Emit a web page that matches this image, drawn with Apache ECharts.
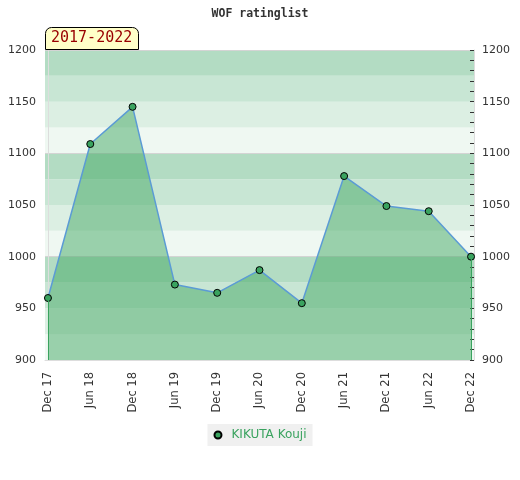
<!DOCTYPE html>
<html><head><meta charset="utf-8">
<script src="https://cdn.jsdelivr.net/npm/echarts@6/dist/echarts.min.js"></script>
<style>html,body{margin:0;padding:0;background:#fff}#c{width:520px;height:480px}</style>
</head><body><div id="c"></div>
<script>
const categories = ['Dec 17','Jun 18','Dec 18','Jun 19','Dec 19','Jun 20','Dec 20','Jun 21','Dec 21','Jun 22','Dec 22'];
const ratings = [960, 1109, 1145, 973, 965, 987, 955, 1078, 1049, 1044, 1000];
const seriesName = 'KIKUTA Kouji';
const periodLabel = '2017-2022';
const chartTitle = 'WOF ratinglist';

const idx = categories.map((_, i) => i);
const data = ratings.map((v, i) => [i, v]);
const last = categories.length - 1;

const chart = echarts.init(document.getElementById('c'));
chart.setOption({
  animation: false,
  title: [
    { text: chartTitle, left: 'center', top: 3,
      textStyle: { fontFamily: 'DejaVu Sans Mono', fontWeight: 'bold', fontSize: 11.5, color: '#333' } },
    { text: periodLabel, left: 45, top: 27, padding: [4, 6, 4, 6],
      backgroundColor: '#ffffc8', borderColor: '#000', borderWidth: 1, borderRadius: [6, 6, 0, 0],
      textStyle: { fontFamily: 'DejaVu Sans Mono', fontWeight: 'normal', fontSize: 15, color: '#990000' } }
  ],
  legend: {
    bottom: 34, left: 'center', backgroundColor: '#f0f0f0', padding: [5, 6],
    icon: 'circle', itemWidth: 7, itemHeight: 7, itemGap: 10,
    textStyle: { color: '#3aa35f', fontSize: 12, fontFamily: 'DejaVu Sans', padding: [0, 0, 0, 5] },
    data: [seriesName]
  },
  grid: { left: 45, right: 46, top: 50, bottom: 120 },
  xAxis: {
    type: 'value', min: -0.07, max: last + 0.07,
    axisLine: { show: true, lineStyle: { color: '#ddd' } },
    axisTick: { show: false },
    splitLine: { show: false },
    axisLabel: {
      customValues: idx, rotate: 90, margin: 12,
      fontSize: 11.5, color: '#333', fontFamily: 'DejaVu Sans',
      formatter: v => categories[Math.round(v)]
    }
  },
  yAxis: [
    { type: 'value', min: 900, max: 1200, interval: 25, position: 'left',
      axisLine: { show: true, lineStyle: { color: '#ddd' } },
      axisTick: { show: false },
      axisLabel: { fontSize: 11, color: '#333', margin: 9, fontFamily: 'DejaVu Sans',
        formatter: v => (v % 50 === 0 ? String(v) : '') },
      splitLine: { show: true, lineStyle: { color: ['#d4d4d4', 'rgba(0,0,0,0)', 'rgba(0,0,0,0)', 'rgba(0,0,0,0)'], width: 1 } },
      splitArea: { show: true, areaStyle: { color: ['#eff8f2', '#dcefe3', '#c8e6d4', '#b3dcc3'] } }
    },
    { type: 'value', min: 900, max: 1200, interval: 50, position: 'right',
      axisLine: { show: true, lineStyle: { color: '#ddd' } },
      axisTick: { show: true, inside: true, length: 4, lineStyle: { color: '#333' } },
      minorTick: { show: true, splitNumber: 5, length: 4, lineStyle: { color: '#333' } },
      axisLabel: { fontSize: 11, color: '#333', margin: 8, fontFamily: 'DejaVu Sans',
        formatter: v => String(v) },
      splitLine: { show: false }
    }
  ],
  series: [{
    name: seriesName, type: 'line', data: data, z: 3,
    symbol: 'circle', symbolSize: 7, showSymbol: true,
    itemStyle: { color: '#3aa35f', borderColor: '#000', borderWidth: 1 },
    lineStyle: { color: '#5b9bd5', width: 1.5 },
    areaStyle: { color: 'rgba(67,168,100,0.5)', opacity: 1, origin: 'start' },
    markLine: {
      silent: true, symbol: 'none', label: { show: false },
      lineStyle: { color: '#3aa35f', width: 1, type: 'solid' },
      data: [
        [{ coord: [0, ratings[0]] }, { coord: [0, 900] }],
        [{ coord: [last, ratings[last]] }, { coord: [last, 900] }]
      ]
    }
  }]
});
</script></body></html>
